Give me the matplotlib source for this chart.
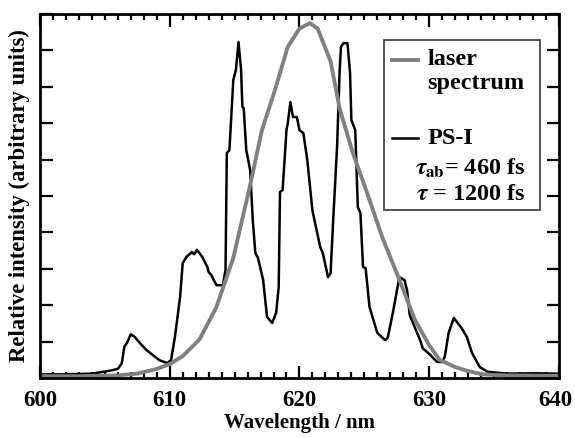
import matplotlib
matplotlib.use("Agg")
import matplotlib.pyplot as plt
import matplotlib.transforms as mtransforms
from matplotlib.ticker import MultipleLocator
from matplotlib.patches import Rectangle

plt.rcParams["font.family"] = ["Liberation Serif", "DejaVu Serif"]
plt.rcParams["font.weight"] = "bold"
plt.rcParams["mathtext.fontset"] = "stix"

# laser spectrum (grey)
laser_wl = [600, 603, 606, 607.5, 609, 610, 611, 612.3, 613.6, 614.9, 616.2, 617.1,
            618.1, 619.1, 620.0, 620.8, 621.4, 622.4, 623.1, 624.1, 625.2, 626.4,
            627.7, 628.9, 630.0, 630.8, 632.0, 632.9, 634.1, 636, 640]
laser_int = [0.05, 0.05, 0.07, 0.12, 0.25, 0.38, 0.6, 1.06, 1.95, 3.3, 5.3, 6.8,
             7.9, 9.1, 9.6, 9.75, 9.6, 8.7, 7.4, 6.2, 5.1, 3.85,
             2.7, 1.6, 0.9, 0.5, 0.3, 0.2, 0.1, 0.07, 0.06]

# PS-I spectrum (black)
psi_wl = [600, 602, 604, 605.4, 606.0, 606.3, 606.5, 606.7, 607.0, 607.3, 607.7, 608.2,
          608.7, 609.2, 609.8, 610.1, 610.4, 610.8, 611.0, 611.3, 611.7, 611.9, 612.1,
          612.5, 612.9, 613.0, 613.2, 613.6, 614.1, 614.3, 614.4, 614.6, 614.9, 615.1,
          615.3, 615.5, 615.6, 615.7, 615.9, 616.2, 616.4, 616.6, 616.8, 617.2, 617.5,
          617.9, 618.2, 618.4, 618.5, 618.7, 619.0, 619.1, 619.3, 619.5, 619.8, 620.0,
          620.3, 620.6, 621.0, 621.6, 621.8, 622.2, 622.4, 622.6, 622.9, 623.1, 623.2,
          623.4, 623.7, 623.9, 624.0, 624.3, 624.5, 624.7, 624.9, 625.1, 625.4, 626.0,
          626.6, 626.8, 627.2, 627.7, 628.1, 628.3, 628.5, 629.3, 629.5, 630.1, 630.6,
          631.0, 631.2, 631.5, 631.9, 632.5, 632.9, 633.3, 633.9, 634.5, 636, 638, 640]
psi_int = [0.1, 0.1, 0.12, 0.2, 0.25, 0.4, 0.86, 0.96, 1.2, 1.13, 0.96, 0.77,
           0.63, 0.49, 0.41, 0.49, 1.13, 2.23, 3.16, 3.33, 3.46, 3.4, 3.52,
           3.33, 3.05, 2.91, 2.83, 2.55, 2.55, 2.97, 6.18, 6.26, 8.19, 8.46,
           9.23, 8.46, 7.45, 7.42, 6.26, 5.71, 4.34, 3.43, 3.3, 2.69, 1.68,
           1.51, 1.79, 2.5, 5.11, 5.16, 6.81, 7.0, 7.58, 7.17, 7.17, 6.81,
           6.73, 6.0, 4.6, 3.6, 3.43, 2.77, 2.88, 4.34, 6.35, 8.46, 9.1,
           9.2, 9.2, 8.38, 7.09, 6.81, 4.7, 4.53, 3.05, 3.02, 1.95, 1.24,
           1.04, 1.1, 1.79, 2.77, 2.69, 2.4, 1.73, 1.04, 0.82, 0.63, 0.44,
           0.44, 0.58, 1.24, 1.65, 1.37, 1.13, 0.69, 0.3, 0.17, 0.12, 0.13, 0.12]

fig = plt.figure(figsize=(5.75, 4.38), dpi=100)
ax = fig.add_axes([0.0696, 0.137, 0.9024, 0.831])

ax.plot(psi_wl, psi_int, color="black", lw=1.8)
ax.plot(laser_wl, laser_int, color="#808080", lw=2.8)

ax.set_xlim(600, 640)
ax.set_ylim(0, 10)
ax.set_xticks([600, 610, 620, 630, 640])
ax.xaxis.set_minor_locator(MultipleLocator(1))
ax.set_yticks(range(0, 11))
ax.set_yticklabels([])
ax.tick_params(which="both", direction="in", top=True, right=True, width=1.6)
ax.tick_params(axis="x", which="major", length=9, labelsize=16.5, pad=9)
ax.tick_params(axis="x", which="minor", length=4)
ax.tick_params(axis="y", which="major", length=9)
for s in ax.spines.values():
    s.set_linewidth(2)

# keep the last label inside the figure, as in the original
last = ax.get_xticklabels()[-1]
last.set_transform(last.get_transform() + mtransforms.ScaledTranslation(-4 / 100, 0, fig.dpi_scale_trans))

ax.set_xlabel("Wavelength / nm", fontsize=15, fontweight="bold", labelpad=1)
ax.set_ylabel("Relative intensity (arbitrary units)", fontsize=16.3, fontweight="bold", labelpad=4)

# hand-made legend box
ax.add_patch(Rectangle((0.663, 0.4615), 0.30, 0.467, transform=ax.transAxes,
                       fill=False, edgecolor="#444444", lw=1.3, zorder=5))
ax.plot([0.678, 0.728], [0.874, 0.874], transform=ax.transAxes, color="#808080", lw=2.8)
ax.plot([0.678, 0.728], [0.659, 0.659], transform=ax.transAxes, color="black", lw=1.8)
ax.text(0.746, 0.874, "laser", transform=ax.transAxes, fontsize=17.5, va="center")
ax.text(0.746, 0.808, "spectrum", transform=ax.transAxes, fontsize=17.5, va="center")
ax.text(0.746, 0.659, "PS-I", transform=ax.transAxes, fontsize=17.5, va="center")
ax.text(0.936, 0.577, r"$\tau_{\rm ab}$= 460 fs", transform=ax.transAxes, fontsize=17.5,
        va="center", ha="right")
ax.text(0.936, 0.503, r"$\tau$ = 1200 fs", transform=ax.transAxes, fontsize=17.5,
        va="center", ha="right")

fig.savefig("out.png", dpi=100)
